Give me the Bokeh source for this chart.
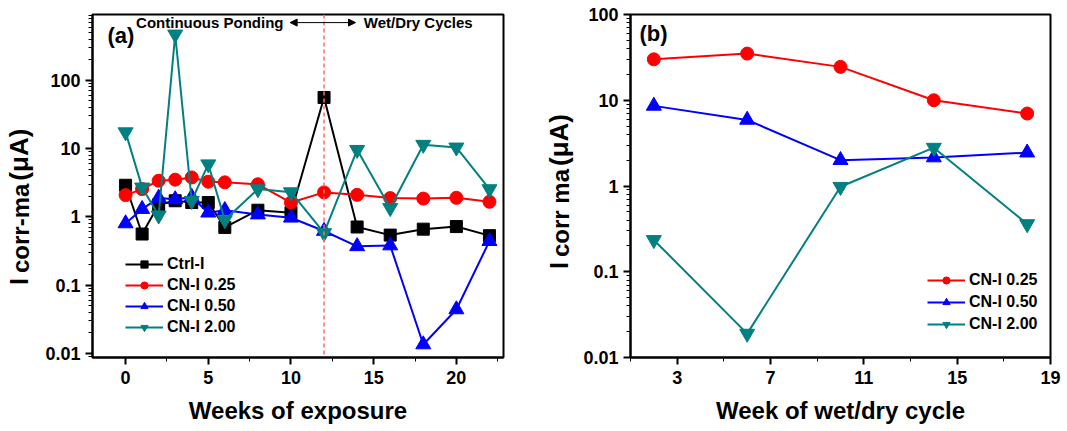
from bokeh.plotting import figure
from bokeh.layouts import row
from bokeh.models import (FixedTicker, SingleIntervalTicker, CustomJSTickFormatter, Span, Label,
                          Arrow, NormalHead, Legend, LegendItem, Div)
from bokeh.embed import file_html
from bokeh.resources import INLINE

# ---------------- data: panel (a) ----------------
weeks_a = [0, 1, 2, 3, 4, 5, 6, 8, 10, 12, 14, 16, 18, 20, 22]
ctrl_i = [2.9, 0.56, 1.5, 1.72, 1.62, 1.62, 0.70, 1.25, 1.15, 56, 0.71, 0.54, 0.66, 0.72, 0.53]
cn_025_a = [2.08, 2.55, 3.38, 3.5, 3.78, 3.27, 3.2, 3.0, 1.62, 2.28, 2.1, 1.88, 1.85, 1.9, 1.66]
cn_050_a = [0.80, 1.3, 1.9, 1.8, 1.95, 1.15, 1.25, 1.08, 0.97, 0.62, 0.37, 0.38, 0.0135, 0.044, 0.44]
cn_200_a = [17.4, 2.7, 1.05, 470, 1.72, 5.9, 0.9, 2.55, 2.3, 0.58, 9.6, 1.35, 11.4, 10.4, 2.55]

# ---------------- data: panel (b) ----------------
weeks_b = [2, 6, 10, 14, 18]
cn_025_b = [30, 35, 24.5, 10, 7.0]
cn_050_b = [8.6, 5.9, 2.0, 2.15, 2.45]
cn_200_b = [0.235, 0.019, 0.98, 2.8, 0.36]

y_ticks = [0.01, 0.1, 1, 10, 100]
x_ticks_b = [3, 7, 11, 15, 19]
x_minor_b = [1, 5, 9, 13, 17]

FONT = "Liberation Sans"
TEAL = "#008080"
H = 430
minor_log = [m * 10.0 ** e for e in range(-3, 4) for m in range(2, 10)]


def style(p):
    p.background_fill_color = "white"
    p.border_fill_color = "white"
    p.outline_line_color = "black"
    p.outline_line_width = 2
    p.grid.visible = False
    for ax in (p.xaxis[0], p.yaxis[0]):
        ax.axis_line_width = 2
        ax.major_tick_line_width = 2
        ax.minor_tick_line_width = 1
        ax.major_tick_out = 7
        ax.major_tick_in = 0
        ax.minor_tick_out = 4
        ax.minor_tick_in = 0
        ax.major_label_text_font = FONT
        ax.major_label_text_font_style = "bold"
        ax.major_label_text_font_size = "18px"
        ax.major_label_text_color = "black"
        ax.axis_label_text_font = FONT
        ax.axis_label_text_font_style = "bold"
        ax.axis_label_text_font_size = "24px"
        ax.axis_label_text_color = "black"
    p.yaxis[0].ticker = FixedTicker(ticks=y_ticks, minor_ticks=minor_log)
    p.yaxis[0].formatter = CustomJSTickFormatter(code="return tick.toString();")
    p.yaxis[0].major_label_standoff = 5
    p.xaxis[0].major_label_standoff = 6
    p.xaxis[0].axis_label_standoff = 10


def series(p, x, y, color, marker, size):
    r1 = p.line(x, y, line_color=color, line_width=2)
    r2 = p.scatter(x, y, marker=marker, size=size, fill_color=color, line_color=color)
    return [r1, r2]


def legend(p, items, x, y, spacing):
    lg = Legend(items=items, location=(x, y), glyph_width=38, glyph_height=18, spacing=spacing,
                padding=0, margin=0, label_standoff=4, background_fill_alpha=0,
                border_line_alpha=0, label_text_font=FONT, label_text_font_style="bold",
                label_text_font_size="16px", label_text_color="black")
    p.add_layout(lg)


def ylabel_div(width, top, sub_text):
    html = (
        '<div style="position:absolute;left:7px;top:%dpx;transform-origin:0 0;'
        'transform:rotate(-90deg);white-space:nowrap;font-family:\'Liberation Sans\',Arial,sans-serif;'
        'font-weight:bold;font-size:25px;line-height:25px;color:#000;">'
        'I<span style="font-size:24px;margin-left:5px;position:relative;top:1px;">%s</span>'
        '<span style="font-size:26px;margin-left:3px;">(\u03bcA)</span></div>' % (top, sub_text)
    )
    return Div(text=html, width=width, height=H, margin=0,
               styles={"position": "relative", "overflow": "visible"})


# ---------------- panel (a) ----------------
la = ylabel_div(40, 285, "corr-ma")

pa = figure(width=500, height=H, y_axis_type="log", x_range=(-2, 22.85), y_range=(0.0087, 920),
            output_backend="svg", toolbar_location=None,
            min_border_left=52, min_border_right=37, min_border_top=14, min_border_bottom=73)
style(pa)
pa.xaxis[0].ticker = SingleIntervalTicker(interval=5, num_minor_ticks=2)
pa.xaxis[0].axis_label = "Weeks of exposure"

pa.add_layout(Span(location=12, dimension="height", line_color="#FF6B6B", line_dash="4 3", line_width=1.5))

ra1 = series(pa, weeks_a, ctrl_i, "black", "square", 12)
ra2 = series(pa, weeks_a, cn_025_a, "red", "circle", 13)
ra3 = series(pa, weeks_a, cn_050_a, "blue", "triangle", 15)
ra4 = series(pa, weeks_a, cn_200_a, TEAL, "inverted_triangle", 15)

legend(pa, [LegendItem(label="Ctrl-I", renderers=ra1),
            LegendItem(label="CN-I 0.25", renderers=ra2),
            LegendItem(label="CN-I 0.50", renderers=ra3),
            LegendItem(label="CN-I 2.00", renderers=ra4)], 33, 21, 3)

pa.add_layout(Label(x=9.55, y=700, text="Continuous Ponding", text_align="right", text_baseline="middle",
                    text_font=FONT, text_font_style="bold", text_font_size="15px", text_color="black"))
pa.add_layout(Label(x=14.4, y=700, text="Wet/Dry Cycles", text_align="left", text_baseline="middle",
                    text_font=FONT, text_font_style="bold", text_font_size="15px", text_color="black"))
pa.add_layout(Arrow(x_start=12, y_start=700, x_end=9.95, y_end=700, line_width=1, line_color="black",
                    end=NormalHead(size=7, fill_color="black", line_color="black")))
pa.add_layout(Arrow(x_start=12, y_start=700, x_end=13.9, y_end=700, line_width=1, line_color="black",
                    end=NormalHead(size=7, fill_color="black", line_color="black")))
pa.add_layout(Label(x=15, y=322, x_units="screen", y_units="screen", text="(a)", text_baseline="middle",
                    text_font=FONT, text_font_style="bold", text_font_size="22px", text_color="black"))

# ---------------- panel (b) ----------------
lb = ylabel_div(40, 269, "corr ma")

pb = figure(width=487, height=H, y_axis_type="log", x_range=(1, 19), y_range=(0.01, 100),
            output_backend="svg", toolbar_location=None,
            min_border_left=49, min_border_right=17, min_border_top=13, min_border_bottom=72)
style(pb)
pb.xaxis[0].ticker = FixedTicker(ticks=x_ticks_b, minor_ticks=x_minor_b)
pb.xaxis[0].axis_label = "Week of wet/dry cycle"

rb2 = series(pb, weeks_b, cn_025_b, "red", "circle", 13)
rb3 = series(pb, weeks_b, cn_050_b, "blue", "triangle", 15)
rb4 = series(pb, weeks_b, cn_200_b, TEAL, "inverted_triangle", 15)

legend(pb, [LegendItem(label="CN-I 0.25", renderers=rb2),
            LegendItem(label="CN-I 0.50", renderers=rb3),
            LegendItem(label="CN-I 2.00", renderers=rb4)], 297, 24, 4)

pb.add_layout(Label(x=9, y=324, x_units="screen", y_units="screen", text="(b)", text_baseline="middle",
                    text_font=FONT, text_font_style="bold", text_font_size="22px", text_color="black"))

layout = row(la, pa, lb, pb, spacing=0)
open("out.html", "w").write(file_html(layout, INLINE))
